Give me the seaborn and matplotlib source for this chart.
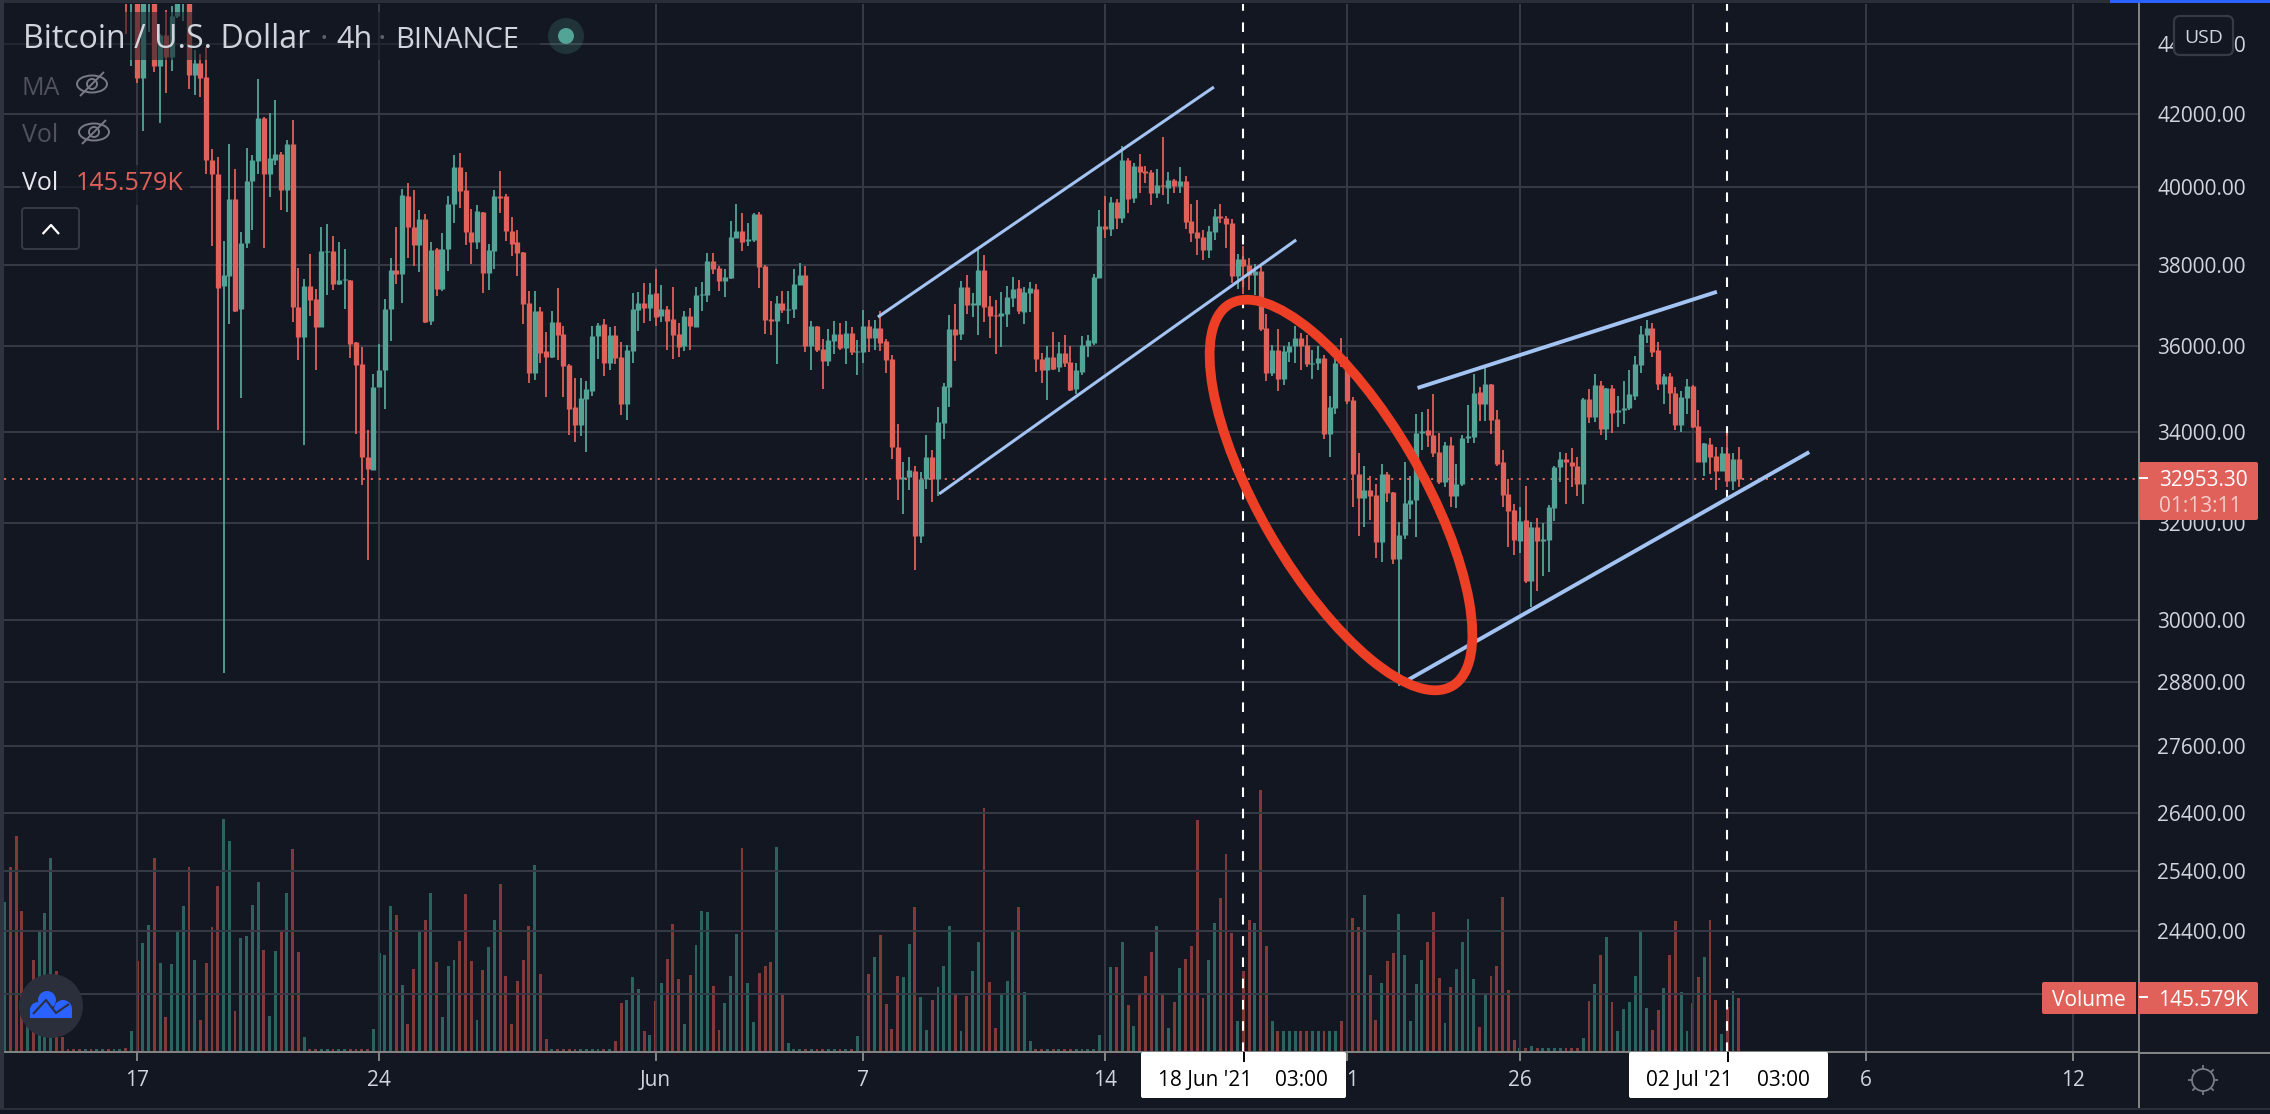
"""Bitcoin / U.S. Dollar 4h chart, volume underneath"""

import numpy as np
import pandas as pd
import seaborn as sns
import matplotlib.dates as mdates
from matplotlib import pyplot as plt
from matplotlib.lines import Line2D
from matplotlib.patches import Circle, Ellipse, FancyBboxPatch, Rectangle
from matplotlib.transforms import IdentityTransform

# price values of the 4h candles, first one is 16 May 16:00
opens = [
    45800,45400,45700,43005,45500,45600,43375,44250,43610,44815,
    45300,45500,43090,43440,43040,40740,40355,37455,37710,39705,
    36890,38545,40165,40710,41890,40355,40740,40905,39920,41180,
    36945,36215,37455,37135,36465,38320,38340,37505,37620,37620,
    36095,35575,33450,33145,35040,35420,36890,37870,37755,39785,
    38970,38495,39160,36600,38390,37385,38390,39560,40550,39920,
    38830,38570,39350,37785,38345,39760,39765,38855,38570,38310,
    37035,35370,36840,35885,35745,36570,36280,35560,34580,34165,
    34745,34930,36230,36525,35605,36255,35745,34630,35885,36865,
    37035,36915,37285,36715,36890,36645,36280,36000,36715,36455,
    37235,37235,38100,37925,37580,37655,38675,38855,38600,38625,
    39300,37975,36645,36595,37035,36875,36890,37480,37730,36000,
    36480,35930,35650,36110,36280,35955,36305,35845,35860,36480,
    36185,36430,36110,35700,33670,32950,32995,33140,31730,32950,
    33450,32950,34210,35025,36405,36280,37430,36985,36985,37875,
    36960,36740,36715,36765,37160,37405,36815,37285,37385,35700,
    35420,35745,35490,35835,35630,34975,35395,36000,36060,37655,
    38985,38910,39610,39195,40740,39715,40575,40440,40410,39845,
    40055,39975,40190,40025,40165,39115,38830,38700,38365,38830,
    39245,39195,39065,37705,38155,38000,37730,37850,36430,35350,
    35905,35210,35860,36000,36200,36035,35580,35605,35720,33955,
    34555,35690,35605,34720,33075,32550,32725,32615,31610,33055,
    32680,31240,31750,32420,32505,33980,34045,33935,33560,32900,
    33715,32590,32835,33870,33890,34905,34650,35095,34305,33320,
    32635,32285,31630,32065,30805,31920,31630,31650,32330,33210,
    33385,33340,33250,32835,34745,34350,35070,34070,35000,34465,
    34490,34555,34835,35560,36255,36430,35905,35095,35280,34885,
    34165,34770,35045,34140,33340,33735,33470,33120,33540,32920,
    33385,
]
closes = [
    45600,45700,43005,45500,45900,43375,44250,43610,44815,45300,
    45500,43090,43440,43030,40740,40355,37415,37745,39705,36840,
    38560,40180,40740,41890,40355,40785,40895,39920,41180,36945,
    36215,37455,37110,36465,38340,38350,37505,37620,37640,36055,
    35560,33435,33165,35040,35420,36905,37870,37755,39810,38970,
    38495,39160,36580,38365,37385,38405,39575,40550,39895,38830,
    38570,39375,37785,38380,39765,39730,38855,38520,38285,37010,
    35370,36840,35835,35745,36570,36255,35535,34535,34165,34770,
    34975,36230,36505,35605,36255,35720,34630,35905,36890,37035,
    36915,37260,36690,36890,36595,36255,35975,36715,36480,37235,
    37260,38100,37900,37580,37680,38700,38855,38570,38650,39300,
    37950,36620,36600,37035,36865,36905,37505,37730,36000,36480,
    35905,35650,36135,36280,35955,36305,35860,35885,36480,36185,
    36430,36060,35675,33670,32950,32995,33155,31730,32965,33450,
    32950,34230,35045,36405,36255,37430,36985,37035,37875,36940,
    36715,36715,36790,37185,37385,36840,37310,37405,35700,35420,
    35745,35465,35835,35605,34955,35420,36035,36135,37680,38985,
    38910,39610,39195,40740,39690,40575,40410,40385,39845,40055,
    40025,40190,40025,40165,39090,38805,38675,38365,38855,39245,
    39195,39040,37705,38155,37975,37730,37850,36405,35350,35905,
    35210,35885,36000,36200,36000,35580,35605,35720,33955,34580,
    35605,35605,34700,33055,32550,32725,32590,31610,33055,32660,
    31240,31750,32440,32505,33980,34025,33935,33540,32900,33715,
    32590,32855,33870,33910,34885,34650,35095,34280,33295,32615,
    32260,31650,32040,30805,31920,31630,31670,32350,33210,33385,
    33320,33250,32835,34745,34350,35070,34070,35000,34440,34510,
    34555,34860,35580,36280,36430,35860,35095,35280,34885,34165,
    34790,35045,34115,33340,33760,33450,33120,33540,32920,33385,
    32953.3,
]
highs = [
    46000,46000,46000,45900,46100,45900,44300,45005,45130,45400,
    45800,45800,43820,43700,43915,41030,40810,38590,41170,40485,
    38820,41060,40880,42985,41930,42020,42400,40950,41280,41835,
    37920,37645,38275,37380,38950,39040,38725,38570,38405,37620,
    36095,35975,34040,35325,36040,37135,38170,38950,39965,40130,
    39940,39400,39300,38570,38415,38805,39765,40875,40930,40410,
    39430,39530,39350,38520,39920,40440,39820,39220,38880,38310,
    37335,37335,36940,36330,36840,37405,36480,35580,35235,35235,
    35165,36480,36550,36645,36455,36480,36085,36035,37285,37310,
    37530,37530,37900,37480,36960,37430,36550,36840,36915,37430,
    37555,38285,38285,37975,37900,39115,39560,39325,39065,39325,
    39350,38000,37085,37210,37335,37335,37900,38050,37975,36595,
    36480,36160,36405,36595,36550,36595,36455,36135,36865,36620,
    36620,36840,36160,35790,34180,33320,33430,33230,33100,33935,
    33605,34580,35115,36740,37010,37580,37730,37285,38440,38250,
    37210,37120,37310,37455,37680,37605,37430,37555,37505,35835,
    36000,36345,36100,36255,36000,35605,36230,36255,37775,39400,
    39765,39740,39690,41120,40795,40660,40905,40575,40465,40485,
    41370,40410,40220,40545,40300,39560,39660,38880,38985,39430,
    39560,39245,39170,38260,38470,38175,38025,37975,36770,36035,
    36405,36000,36085,36480,36305,36255,35905,36000,35790,34835,
    35885,36200,35745,34790,33540,33250,33030,32855,33275,33100,
    32680,32020,33320,33010,34420,34465,34535,34860,33980,33780,
    33890,33295,33935,34605,35325,35025,35510,35095,34510,33605,
    32945,32420,32350,32810,32020,32110,32000,32395,33250,33560,
    33540,33650,33450,34770,34975,35325,35165,35000,35070,34815,
    35165,35440,35770,36480,36620,36550,36085,35325,35370,35025,
    34930,35210,35070,34510,33760,33870,33670,33670,33980,33540,
    33670,
]
lows = [
    44290,43375,42870,41515,44340,43200,41760,42590,43230,44770,
    44670,42710,42540,42465,40355,38475,34045,28975,36520,36820,
    34775,38425,38880,40355,38425,39740,40600,39400,39360,36575,
    35675,33715,36720,35420,36465,37235,37360,37480,36890,35705,
    33965,32815,31230,33145,35025,34515,36120,37520,37045,38160,
    37960,37810,36555,36505,37220,37340,37835,39065,39455,38495,
    38005,38390,37285,37360,37900,39325,38600,38210,37705,36525,
    35115,35185,35605,34790,35720,35675,34790,33935,33780,33910,
    33560,34815,35700,35280,35440,35580,34395,34280,35605,36355,
    36550,36595,36480,36570,35905,35700,35745,35885,35905,36455,
    36840,37060,37755,37335,37185,37630,38675,38340,38470,38570,
    37405,36280,36255,35580,36790,36525,36670,37480,35860,35440,
    35860,34975,35535,35815,35905,35580,35790,35305,35605,35860,
    35905,35885,35350,33405,32505,32195,32725,31030,31590,32745,
    32460,32590,33845,34580,35650,36135,36765,36690,36255,36570,
    36185,35815,35975,36455,36940,36765,36525,36815,35395,35115,
    34720,35440,35395,35510,34930,34875,35305,35745,36035,37655,
    38675,38720,38910,39065,39325,39585,39845,40110,39530,39715,
    39790,39560,39845,39845,38910,38570,38235,38105,38170,38625,
    39065,38415,37530,37385,37260,37360,37235,36355,35165,35280,
    34930,35070,35630,35605,35420,35490,35210,35420,33845,33450,
    34420,35495,34630,32350,31730,31920,32065,31260,31195,32460,
    31155,28720,31670,32090,31710,33605,33670,33430,32855,32770,
    32350,32330,32810,33760,33760,34255,34255,33955,33230,32350,
    31505,31340,31380,30745,30270,30600,30890,30990,32045,32880,
    32420,32790,32590,32420,34210,34230,33935,33825,33980,34115,
    34185,34510,34720,35350,36060,35745,34955,34630,34420,34045,
    34000,34420,34090,33320,33010,33075,32725,33120,32770,32725,
    32770,
]
# volume in thousands, same candles
volume = [
    8,55,247,297,346,530,242,93,239,330,
    398,506,250,85,242,341,453,638,577,110,
    311,316,401,464,278,96,275,330,434,555,
    272,38,5,5,5,5,5,5,5,5,
    5,5,5,60,269,264,398,374,181,74,
    225,327,360,434,245,93,234,250,302,431,
    247,85,223,286,360,459,206,74,192,250,
    344,511,212,33,5,5,5,5,5,5,
    5,5,5,5,5,27,132,140,203,170,
    55,44,137,187,253,349,198,74,209,291,
    385,382,179,58,132,206,322,558,187,80,
    214,234,245,561,159,22,5,5,5,5,
    5,5,5,5,5,5,5,41,192,212,
    258,319,129,60,206,203,294,396,148,58,
    140,176,234,344,157,55,151,220,300,668,
    190,63,157,192,330,396,162,27,5,5,
    5,5,5,5,5,5,5,5,5,44,
    140,231,231,300,126,69,154,206,272,344,
    154,63,135,228,253,289,635,146,250,352,
    420,541,324,82,220,360,352,717,289,82,
    55,55,55,55,55,55,55,55,55,55,
    55,82,324,365,341,429,209,85,187,247,
    269,376,264,82,184,250,300,382,201,77,
    176,225,300,363,198,66,154,206,234,423,
    168,30,8,8,14,8,8,8,8,8,
    8,8,8,36,137,184,264,313,135,55,
    115,135,206,333,118,58,113,173,264,357,
    162,55,132,203,258,360,140,47,121,165,
    145.579,
]
# bars further left whose candles sit above the visible range
early_volume = [409,506,591,385,158,250,330,379,530,220,39,5,5,5,5,5,5,5,5,5,5]
early_volume_up = [1,0,0,0,1,0,1,1,1,0,0,0,0,0,1,0,1,1,0,1,1]

price_ticks = [44000,42000,40000,38000,36000,34000,32000,30000,28800,27600,26400,25400,24400,23400]
date_ticks = ['2021-05-17','2021-05-24','2021-06-01','2021-06-07','2021-06-14',
              '2021-06-21','2021-06-26','2021-07-01','2021-07-06','2021-07-12']
# the 1 July label sits behind the date box, so it stays empty
date_labels = ['17','24','Jun','7','14','21','26','','6','12']
marked_dates = ['2021-06-18','2021-07-02']
last_price = 32953.30

# drawn trend lines: days after 17 May, price
channel_days = [[21.43,31.15],[23.2,33.53],[37.04,45.7],[36.56,48.37]]
channel_prices = [[36700,42760],[32630,38630],[35010,37320],[28760,33550]]
channel_widths = [2.2,2.2,2.8,2.8]

BG = '#131722'
GRID = '#363a45'
AXIS = '#858585'
TEXT = '#d1d4dc'
UP = '#53a497'
DOWN = '#e0605a'
UP_VOL = '#2c625f'
DOWN_VOL = '#823939'
W, H = 2270, 1114

sns.set_theme(style='dark', rc={'axes.facecolor': BG, 'figure.facecolor': BG})
plt.rcParams['font.family'] = ['Open Sans', 'DejaVu Sans']

assert len(opens) == len(closes) == len(highs) == len(lows) == len(volume)

times = mdates.date2num(pd.date_range('2021-05-16 16:00', periods=len(opens), freq='4h'))
candles = pd.DataFrame({'t': times, 'o': opens, 'h': highs, 'l': lows, 'c': closes})
candles['dir'] = np.where(candles.c < candles.o, 'down', 'up')
candles['id'] = candles.index

wicks = pd.concat([candles.assign(price=candles.l), candles.assign(price=candles.h)]).sort_values('id')
bodies = pd.concat([candles.assign(price=candles.o), candles.assign(price=candles.c)]).sort_values('id')

vol_times = mdates.date2num(pd.date_range('2021-05-13 04:00', periods=len(early_volume) + len(volume), freq='4h'))
vol_df = pd.DataFrame({
    't': vol_times,
    'v': early_volume + volume,
    'dir': ['up' if u else 'down' for u in early_volume_up] + list(candles.dir),
})

fig = plt.figure(figsize=(W / 100, H / 100), dpi=100)
ax = fig.add_axes([4 / W, 1 - 1052 / H, (2139 - 4) / W, (1052 - 4) / H])
ax2 = ax.twinx()
ax.set_zorder(1)
ax2.set_zorder(0)
ax.patch.set_visible(False)
ax2.patch.set_visible(False)
ax.set_yscale('log')

# volume
sns.barplot(data=vol_df, x='t', y='v', hue='dir', native_scale=True, dodge=False, width=0.5,
            palette={'up': UP_VOL, 'down': DOWN_VOL}, saturation=1, errorbar=None,
            linewidth=0, legend=False, ax=ax2)

# candles
palette = {'up': UP, 'down': DOWN}
sns.lineplot(data=wicks, x='t', y='price', units='id', hue='dir', palette=palette, estimator=None,
             sort=False, linewidth=1.3, solid_capstyle='butt', legend=False, zorder=4, ax=ax)
sns.lineplot(data=bodies, x='t', y='price', units='id', hue='dir', palette=palette, estimator=None,
             sort=False, linewidth=3.8, solid_capstyle='butt', legend=False, zorder=4.5, ax=ax)

base_day = mdates.date2num(pd.Timestamp('2021-05-17'))
ax.set_xlim(base_day - 3.85, base_day + 57.91)
ax.set_ylim(22520, 45185)
ax2.set_ylim(-2.75, 2879)
ax2.set_yticks([])
ax2.set_ylabel('')
ax2.set_xlabel('')
ax.set_xlabel('')
ax.set_ylabel('')

ax.yaxis.tick_right()
ax.set_yticks(price_ticks, labels=['%.2f' % p for p in price_ticks])
ax.minorticks_off()
ax.set_xticks(mdates.date2num(pd.to_datetime(date_ticks)), labels=date_labels)
ax.grid(True, color=GRID, linewidth=1.4, zorder=1)
ax.set_axisbelow(True)
ax.tick_params(axis='both', length=6.5, width=1.4, color=AXIS, labelcolor=TEXT, labelsize=15, pad=6.5)
ax.tick_params(axis='both', which='both', bottom=True, right=True, left=False, top=False)

sns.despine(ax=ax, left=True, top=True, right=False, bottom=False)
sns.despine(ax=ax2, left=True, top=True, right=True, bottom=True)
for side in ['right', 'bottom']:
    ax.spines[side].set_color(AXIS)
    ax.spines[side].set_linewidth(1.4)

# marks on the chart
ax.axhline(last_price, color=DOWN, linewidth=1.4, linestyle=(0, (1.1, 3)), zorder=3)
for d in marked_dates:
    ax.axvline(mdates.date2num(pd.Timestamp(d)), color='white', linewidth=1.5, linestyle=(0, (4.6, 5.6)), zorder=2)
for days, prices, lw in zip(channel_days, channel_prices, channel_widths):
    ax.plot([base_day + d for d in days], prices, color='#a3c3f3', linewidth=lw, zorder=5, solid_capstyle='butt')
ax.add_patch(Ellipse((1341, H - 495), 2 * 221, 2 * 81, angle=-59.8, fill=False, edgecolor='#ec3f25',
                     linewidth=7, transform=IdentityTransform(), zorder=6))


# everything below is interface furniture, placed in pixels from the top left
def px_rect(x0, y0, x1, y1, fc, alpha=None, z=8):
    fig.add_artist(Rectangle((x0, H - y1), x1 - x0, y1 - y0, facecolor=fc, edgecolor='none', alpha=alpha,
                             transform=IdentityTransform(), zorder=z))


def px_box(x0, y0, x1, y1, fc, ec='none', r=3, lw=1.4, z=9):
    fig.add_artist(FancyBboxPatch((x0 + r, H - y1 + r), x1 - x0 - 2 * r, y1 - y0 - 2 * r,
                                  boxstyle='round,pad=%d,rounding_size=%d' % (r, r), facecolor=fc, edgecolor=ec,
                                  linewidth=lw, transform=IdentityTransform(), zorder=z))


def px_line(xs, ys, color, lw=1.4, z=9):
    fig.add_artist(Line2D(xs, [H - y for y in ys], color=color, linewidth=lw,
                          transform=IdentityTransform(), zorder=z, solid_capstyle='butt'))


def px_circle(x, y, r, fc, ec='none', alpha=None, lw=1.4, z=9):
    fig.add_artist(Circle((x, H - y), r, facecolor=fc, edgecolor=ec, alpha=alpha, linewidth=lw,
                          transform=IdentityTransform(), zorder=z))


def px_text(x, y, s, color=TEXT, size=15, ha='left', z=10):
    fig.text(x / W, 1 - y / H, s, color=color, fontsize=size, ha=ha, va='baseline', zorder=z)


def eye(cx, cy, color='#787b86'):
    fig.add_artist(Ellipse((cx, H - cy), 30, 17, fill=False, edgecolor=color, linewidth=1.4,
                           transform=IdentityTransform(), zorder=9))
    px_circle(cx, cy, 5, 'none', ec=color, lw=1.4)
    px_line([cx - 12, cx + 12], [cy + 12, cy - 12], color, lw=1.4)


# window edges
px_rect(0, 0, 2110, 2.5, '#2a2e39')
px_rect(2110, 0, W, 2.5, '#2962ff')
px_rect(0, 0, 3.5, 1110, '#2f333f')
px_rect(0, 1107.5, W, 1110, '#2a2e39')
px_line([2139, 2139], [1052, 1108], AXIS)
px_line([2139, W], [1052.5, 1052.5], AXIS)

# header, with the dimmed strip behind it
px_rect(4, 12, 540, 60, BG, alpha=0.55, z=2)
px_rect(20, 165, 190, 205, BG, alpha=0.7, z=2)
px_text(23, 47.7, 'Bitcoin / U.S. Dollar', size=23)
px_text(320, 47.7, '·', color='#5d606b', size=23)
px_text(336, 47.7, '4h', size=22)
px_text(378, 47.7, '·', color='#5d606b', size=23)
px_text(395, 47.7, 'BINANCE', size=21)
px_circle(566, 36, 18, UP, alpha=0.2)
px_circle(566, 36, 8, UP)
px_text(22, 94.6, 'MA', color='#50535e', size=18)
eye(92, 84)
px_text(22, 142, 'Vol', color='#50535e', size=18)
eye(94, 132)
px_text(22, 190, 'Vol', color='#e6e8ee', size=18)
px_text(76, 190, '145.579K', color=DOWN, size=18)
px_box(22, 208, 79, 249, BG, ec=GRID)
px_line([42.6, 51, 59], [234, 225, 234], 'white', lw=1.6)

# price tags
px_box(2174, 16, 2233, 55, BG, ec=GRID, r=6, lw=1.6)
px_text(2204, 43, 'USD', size=14, ha='center')
px_box(2139, 462, 2258, 520, DOWN, r=2)
px_line([2139, 2148], [478, 478], 'white')
px_text(2159, 486, '32953.30', color='white')
px_text(2159, 512, '01:13:11', color='#f6cdc9')
px_box(2042, 982, 2258, 1014, DOWN, r=2)
px_line([2136.6, 2136.6], [982, 1014], BG)
px_line([2139, 2148], [997, 997], 'white')
px_text(2052, 1006, 'Volume', color='white')
px_text(2158, 1006, '145.579K', color='white')

# crosshair date boxes
for x0, x1, x_tick, x_a, x_b, a, b in [(1141, 1346, 1244, 1158, 1275, "18 Jun '21", '03:00'),
                                       (1629, 1828, 1728, 1646, 1757, "02 Jul '21", '03:00')]:
    px_box(x0, 1052, x1, 1098, 'white', r=2)
    px_line([x_tick, x_tick], [1052, 1062], 'black')
    px_text(x_a, 1086, a, color='black')
    px_text(x_b, 1086, b, color='black')

# logo
px_circle(51, 1006, 32, '#2b2e3b')
for cx, cy, r in [(47, 1000, 9), (38, 1010, 8), (63, 1009, 9)]:
    px_circle(cx, cy, r, '#2962ff', z=10)
px_rect(30, 1008, 72, 1018, '#2962ff', z=10)
px_line([33, 46, 56, 69], [1014, 1000, 1013, 1004], '#2b2e3b', lw=1.5, z=11)

# settings gear
px_circle(2203, 1080, 11, 'none', ec='#787b86', lw=1.3)
for a in np.arange(0, 2 * np.pi, np.pi / 4):
    px_line([2203 + 11 * np.cos(a), 2203 + 15 * np.cos(a)], [1080 + 11 * np.sin(a), 1080 + 15 * np.sin(a)],
            '#787b86', lw=1.3)

fig.savefig('out.png', dpi=100, facecolor=BG)
